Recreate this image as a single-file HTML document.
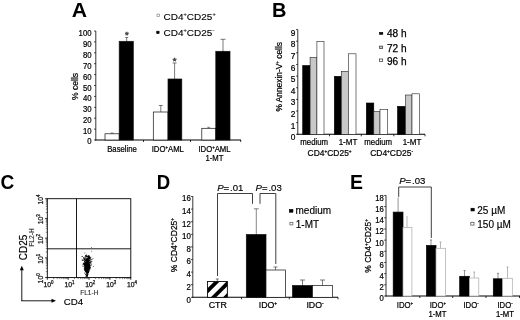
<!DOCTYPE html>
<html><head><meta charset="utf-8"><title>Figure</title>
<style>
html,body{margin:0;padding:0;background:#fff;}
body{width:520px;height:320px;overflow:hidden;}
svg{display:block;filter:blur(0.35px);font-family:"Liberation Sans",sans-serif;}
</style></head><body>
<svg width="520" height="320" viewBox="0 0 520 320">
<rect x="0" y="0" width="520" height="320" fill="#fff"/>
<text transform="translate(71.70 16.60) scale(1.06 1)" font-size="20" text-anchor="start" font-weight="bold" fill="#000">A</text>
<line x1="95.80" y1="31.00" x2="95.80" y2="140.50" stroke="#222" stroke-width="0.9"/>
<line x1="95.40" y1="140.00" x2="241.00" y2="140.00" stroke="#000" stroke-width="1.1"/>
<line x1="94.00" y1="140.00" x2="95.80" y2="140.00" stroke="#000" stroke-width="0.7"/>
<text transform="translate(91.50 144.40) scale(0.88 1)" font-size="8.8" text-anchor="end" font-weight="normal" fill="#000" stroke="#000" stroke-width="0.22">0</text>
<line x1="94.00" y1="129.10" x2="95.80" y2="129.10" stroke="#000" stroke-width="0.7"/>
<text transform="translate(91.50 134.10) scale(0.88 1)" font-size="8.8" text-anchor="end" font-weight="normal" fill="#000" stroke="#000" stroke-width="0.22">10</text>
<line x1="94.00" y1="118.20" x2="95.80" y2="118.20" stroke="#000" stroke-width="0.7"/>
<text transform="translate(91.50 123.20) scale(0.88 1)" font-size="8.8" text-anchor="end" font-weight="normal" fill="#000" stroke="#000" stroke-width="0.22">20</text>
<line x1="94.00" y1="107.30" x2="95.80" y2="107.30" stroke="#000" stroke-width="0.7"/>
<text transform="translate(91.50 112.30) scale(0.88 1)" font-size="8.8" text-anchor="end" font-weight="normal" fill="#000" stroke="#000" stroke-width="0.22">30</text>
<line x1="94.00" y1="96.40" x2="95.80" y2="96.40" stroke="#000" stroke-width="0.7"/>
<text transform="translate(91.50 101.40) scale(0.88 1)" font-size="8.8" text-anchor="end" font-weight="normal" fill="#000" stroke="#000" stroke-width="0.22">40</text>
<line x1="94.00" y1="85.50" x2="95.80" y2="85.50" stroke="#000" stroke-width="0.7"/>
<text transform="translate(91.50 90.50) scale(0.88 1)" font-size="8.8" text-anchor="end" font-weight="normal" fill="#000" stroke="#000" stroke-width="0.22">50</text>
<line x1="94.00" y1="74.60" x2="95.80" y2="74.60" stroke="#000" stroke-width="0.7"/>
<text transform="translate(91.50 79.60) scale(0.88 1)" font-size="8.8" text-anchor="end" font-weight="normal" fill="#000" stroke="#000" stroke-width="0.22">60</text>
<line x1="94.00" y1="63.70" x2="95.80" y2="63.70" stroke="#000" stroke-width="0.7"/>
<text transform="translate(91.50 68.70) scale(0.88 1)" font-size="8.8" text-anchor="end" font-weight="normal" fill="#000" stroke="#000" stroke-width="0.22">70</text>
<line x1="94.00" y1="52.80" x2="95.80" y2="52.80" stroke="#000" stroke-width="0.7"/>
<text transform="translate(91.50 57.80) scale(0.88 1)" font-size="8.8" text-anchor="end" font-weight="normal" fill="#000" stroke="#000" stroke-width="0.22">80</text>
<line x1="94.00" y1="41.90" x2="95.80" y2="41.90" stroke="#000" stroke-width="0.7"/>
<text transform="translate(91.50 46.90) scale(0.88 1)" font-size="8.8" text-anchor="end" font-weight="normal" fill="#000" stroke="#000" stroke-width="0.22">90</text>
<line x1="94.00" y1="31.00" x2="95.80" y2="31.00" stroke="#000" stroke-width="0.7"/>
<text transform="translate(91.50 36.00) scale(0.88 1)" font-size="8.8" text-anchor="end" font-weight="normal" fill="#000" stroke="#000" stroke-width="0.22">100</text>
<line x1="143.50" y1="140.00" x2="143.50" y2="142.00" stroke="#000" stroke-width="0.8"/>
<line x1="190.50" y1="140.00" x2="190.50" y2="142.00" stroke="#000" stroke-width="0.8"/>
<line x1="240.70" y1="140.00" x2="240.70" y2="142.00" stroke="#000" stroke-width="0.8"/>
<line x1="112.00" y1="133.00" x2="112.00" y2="134.00" stroke="#444" stroke-width="0.6"/>
<line x1="110.50" y1="133.00" x2="113.50" y2="133.00" stroke="#444" stroke-width="0.6"/>
<rect x="105.00" y="133.80" width="14.20" height="6.20" fill="#fff" stroke="#111" stroke-width="0.7"/>
<line x1="126.70" y1="37.50" x2="126.70" y2="42.00" stroke="#444" stroke-width="0.7"/>
<line x1="125.20" y1="37.50" x2="128.20" y2="37.50" stroke="#444" stroke-width="0.7"/>
<rect x="119.20" y="41.30" width="14.10" height="98.70" fill="#000" stroke="#111" stroke-width="0.7"/>
<line x1="160.80" y1="105.50" x2="160.80" y2="112.00" stroke="#444" stroke-width="0.7"/>
<line x1="158.80" y1="105.50" x2="162.80" y2="105.50" stroke="#444" stroke-width="0.7"/>
<rect x="153.30" y="112.00" width="14.70" height="28.00" fill="#fff" stroke="#111" stroke-width="0.7"/>
<line x1="174.60" y1="63.00" x2="174.60" y2="80.00" stroke="#444" stroke-width="0.7"/>
<line x1="172.60" y1="63.00" x2="176.60" y2="63.00" stroke="#444" stroke-width="0.7"/>
<rect x="168.00" y="79.00" width="13.80" height="61.00" fill="#000" stroke="#111" stroke-width="0.7"/>
<line x1="208.70" y1="127.30" x2="208.70" y2="128.50" stroke="#444" stroke-width="0.6"/>
<line x1="207.20" y1="127.30" x2="210.20" y2="127.30" stroke="#444" stroke-width="0.6"/>
<rect x="201.80" y="128.30" width="14.00" height="11.70" fill="#fff" stroke="#111" stroke-width="0.7"/>
<line x1="223.00" y1="39.30" x2="223.00" y2="52.00" stroke="#444" stroke-width="0.7"/>
<line x1="220.50" y1="39.30" x2="225.50" y2="39.30" stroke="#444" stroke-width="0.7"/>
<rect x="215.80" y="51.30" width="14.20" height="88.70" fill="#000" stroke="#111" stroke-width="0.7"/>
<text transform="translate(126.90 37.80)" font-size="9.5" text-anchor="middle" font-weight="normal" fill="#444" stroke="#444" stroke-width="0.5">*</text>
<text transform="translate(174.60 63.60)" font-size="9.5" text-anchor="middle" font-weight="normal" fill="#444" stroke="#444" stroke-width="0.5">*</text>
<text transform="translate(122.00 151.80) scale(0.9 1)" font-size="8.6" text-anchor="middle" font-weight="normal" fill="#000" stroke="#000" stroke-width="0.22">Baseline</text>
<text transform="translate(167.80 151.80) scale(0.9 1)" font-size="8.6" text-anchor="middle" font-weight="normal" fill="#000" stroke="#000" stroke-width="0.22">IDO<tspan baseline-shift="3.27" font-size="4.82">+</tspan>AML</text>
<text transform="translate(214.50 151.80) scale(0.9 1)" font-size="8.6" text-anchor="middle" font-weight="normal" fill="#000" stroke="#000" stroke-width="0.22">IDO<tspan baseline-shift="3.27" font-size="4.82">+</tspan>AML</text>
<text transform="translate(214.50 161.00) scale(0.9 1)" font-size="8.6" text-anchor="middle" font-weight="normal" fill="#000" stroke="#000" stroke-width="0.22">1-MT</text>
<text transform="translate(78.20 86.50) rotate(-90)" font-size="8.6" text-anchor="middle" font-weight="normal" fill="#000" stroke="#000" stroke-width="0.22">% cells</text>
<rect x="157.00" y="14.10" width="2.40" height="2.40" fill="#fff" stroke="#888" stroke-width="0.7"/>
<text transform="translate(163.60 19.70) scale(1.075 1)" font-size="9.3" text-anchor="start" font-weight="normal" fill="#000" stroke="#000" stroke-width="0.12">CD4<tspan baseline-shift="3.53" font-size="5.21">+</tspan>CD25<tspan baseline-shift="3.53" font-size="5.21">+</tspan></text>
<rect x="156.70" y="31.20" width="2.40" height="2.40" fill="#000" stroke="#000" stroke-width="0.6"/>
<text transform="translate(163.60 36.10) scale(1.075 1)" font-size="9.3" text-anchor="start" font-weight="normal" fill="#000" stroke="#000" stroke-width="0.12">CD4<tspan baseline-shift="3.53" font-size="5.21">+</tspan>CD25<tspan baseline-shift="3.53" font-size="5.21">-</tspan></text>
<text transform="translate(272.00 16.70)" font-size="20" text-anchor="start" font-weight="bold" fill="#000">B</text>
<line x1="297.80" y1="29.60" x2="297.80" y2="134.80" stroke="#222" stroke-width="0.9"/>
<line x1="297.40" y1="134.30" x2="425.00" y2="134.30" stroke="#000" stroke-width="1.1"/>
<line x1="296.00" y1="134.30" x2="297.80" y2="134.30" stroke="#000" stroke-width="0.7"/>
<text transform="translate(295.30 140.10) scale(0.95 1)" font-size="8.8" text-anchor="end" font-weight="normal" fill="#000" stroke="#000" stroke-width="0.22">0</text>
<line x1="296.00" y1="122.66" x2="297.80" y2="122.66" stroke="#000" stroke-width="0.7"/>
<text transform="translate(295.30 128.76) scale(0.95 1)" font-size="8.8" text-anchor="end" font-weight="normal" fill="#000" stroke="#000" stroke-width="0.22">1</text>
<line x1="296.00" y1="111.02" x2="297.80" y2="111.02" stroke="#000" stroke-width="0.7"/>
<text transform="translate(295.30 117.12) scale(0.95 1)" font-size="8.8" text-anchor="end" font-weight="normal" fill="#000" stroke="#000" stroke-width="0.22">2</text>
<line x1="296.00" y1="99.38" x2="297.80" y2="99.38" stroke="#000" stroke-width="0.7"/>
<text transform="translate(295.30 105.48) scale(0.95 1)" font-size="8.8" text-anchor="end" font-weight="normal" fill="#000" stroke="#000" stroke-width="0.22">3</text>
<line x1="296.00" y1="87.74" x2="297.80" y2="87.74" stroke="#000" stroke-width="0.7"/>
<text transform="translate(295.30 93.84) scale(0.95 1)" font-size="8.8" text-anchor="end" font-weight="normal" fill="#000" stroke="#000" stroke-width="0.22">4</text>
<line x1="296.00" y1="76.10" x2="297.80" y2="76.10" stroke="#000" stroke-width="0.7"/>
<text transform="translate(295.30 82.20) scale(0.95 1)" font-size="8.8" text-anchor="end" font-weight="normal" fill="#000" stroke="#000" stroke-width="0.22">5</text>
<line x1="296.00" y1="64.46" x2="297.80" y2="64.46" stroke="#000" stroke-width="0.7"/>
<text transform="translate(295.30 70.56) scale(0.95 1)" font-size="8.8" text-anchor="end" font-weight="normal" fill="#000" stroke="#000" stroke-width="0.22">6</text>
<line x1="296.00" y1="52.82" x2="297.80" y2="52.82" stroke="#000" stroke-width="0.7"/>
<text transform="translate(295.30 58.92) scale(0.95 1)" font-size="8.8" text-anchor="end" font-weight="normal" fill="#000" stroke="#000" stroke-width="0.22">7</text>
<line x1="296.00" y1="41.18" x2="297.80" y2="41.18" stroke="#000" stroke-width="0.7"/>
<text transform="translate(295.30 47.28) scale(0.95 1)" font-size="8.8" text-anchor="end" font-weight="normal" fill="#000" stroke="#000" stroke-width="0.22">8</text>
<line x1="296.00" y1="29.54" x2="297.80" y2="29.54" stroke="#000" stroke-width="0.7"/>
<text transform="translate(295.30 35.64) scale(0.95 1)" font-size="8.8" text-anchor="end" font-weight="normal" fill="#000" stroke="#000" stroke-width="0.22">9</text>
<line x1="329.50" y1="134.30" x2="329.50" y2="136.30" stroke="#000" stroke-width="0.8"/>
<line x1="361.30" y1="134.30" x2="361.30" y2="136.30" stroke="#000" stroke-width="0.8"/>
<line x1="393.80" y1="134.30" x2="393.80" y2="136.30" stroke="#000" stroke-width="0.8"/>
<line x1="425.00" y1="134.30" x2="425.00" y2="136.30" stroke="#000" stroke-width="0.8"/>
<rect x="302.70" y="65.50" width="7.40" height="68.80" fill="#000" stroke="#000" stroke-width="0.6"/>
<rect x="310.10" y="57.50" width="6.80" height="76.80" fill="#c8c8c8" stroke="#222" stroke-width="0.6"/>
<rect x="316.90" y="41.40" width="7.10" height="92.90" fill="#fff" stroke="#222" stroke-width="0.6"/>
<rect x="334.30" y="76.30" width="7.00" height="58.00" fill="#000" stroke="#000" stroke-width="0.6"/>
<rect x="341.30" y="71.30" width="7.00" height="63.00" fill="#c8c8c8" stroke="#222" stroke-width="0.6"/>
<rect x="348.30" y="53.80" width="7.70" height="80.50" fill="#fff" stroke="#222" stroke-width="0.6"/>
<rect x="366.30" y="103.00" width="7.50" height="31.30" fill="#000" stroke="#000" stroke-width="0.6"/>
<rect x="373.80" y="111.50" width="6.20" height="22.80" fill="#c8c8c8" stroke="#222" stroke-width="0.6"/>
<rect x="380.00" y="109.50" width="7.70" height="24.80" fill="#fff" stroke="#222" stroke-width="0.6"/>
<rect x="397.50" y="106.30" width="8.00" height="28.00" fill="#000" stroke="#000" stroke-width="0.6"/>
<rect x="405.50" y="95.00" width="6.50" height="39.30" fill="#c8c8c8" stroke="#222" stroke-width="0.6"/>
<rect x="412.00" y="93.80" width="7.50" height="40.50" fill="#fff" stroke="#222" stroke-width="0.6"/>
<text transform="translate(314.20 144.70) scale(0.88 1)" font-size="8.9" text-anchor="middle" font-weight="normal" fill="#000" stroke="#000" stroke-width="0.22">medium</text>
<text transform="translate(348.00 144.70) scale(0.9 1)" font-size="8.9" text-anchor="middle" font-weight="normal" fill="#000" stroke="#000" stroke-width="0.22">1-MT</text>
<text transform="translate(378.20 144.70) scale(0.88 1)" font-size="8.9" text-anchor="middle" font-weight="normal" fill="#000" stroke="#000" stroke-width="0.22">medium</text>
<text transform="translate(412.00 144.70) scale(0.9 1)" font-size="8.9" text-anchor="middle" font-weight="normal" fill="#000" stroke="#000" stroke-width="0.22">1-MT</text>
<text transform="translate(329.60 155.60) scale(0.96 1)" font-size="8.8" text-anchor="middle" font-weight="normal" fill="#000" stroke="#000" stroke-width="0.22">CD4<tspan baseline-shift="3.34" font-size="4.93">+</tspan>CD25<tspan baseline-shift="3.34" font-size="4.93">+</tspan></text>
<text transform="translate(391.60 155.60) scale(0.96 1)" font-size="8.8" text-anchor="middle" font-weight="normal" fill="#000" stroke="#000" stroke-width="0.22">CD4<tspan baseline-shift="3.34" font-size="4.93">+</tspan>CD25<tspan baseline-shift="3.34" font-size="4.93">-</tspan></text>
<text transform="translate(282.30 76.80) rotate(-90) scale(0.95 1)" font-size="8.799999999999999" text-anchor="middle" font-weight="normal" fill="#000" stroke="#000" stroke-width="0.22">% Annexin-V<tspan baseline-shift="3.27" font-size="4.82">+</tspan> cells</text>
<rect x="379.60" y="32.40" width="3.20" height="1.90" fill="#000" stroke="#000" stroke-width="0.6"/>
<text transform="translate(387.00 37.10)" font-size="10.1" text-anchor="start" font-weight="normal" fill="#000" stroke="#000" stroke-width="0.25">48 h</text>
<rect x="379.60" y="46.10" width="3.10" height="2.50" fill="#c8c8c8" stroke="#333" stroke-width="0.7"/>
<text transform="translate(387.00 51.50)" font-size="10.1" text-anchor="start" font-weight="normal" fill="#000" stroke="#000" stroke-width="0.25">72 h</text>
<rect x="379.60" y="59.00" width="3.10" height="2.50" fill="#fff" stroke="#333" stroke-width="0.7"/>
<text transform="translate(387.00 65.00)" font-size="10.1" text-anchor="start" font-weight="normal" fill="#000" stroke="#000" stroke-width="0.25">96 h</text>
<text transform="translate(0.60 188.70) scale(0.93 1)" font-size="20.5" text-anchor="start" font-weight="bold" fill="#000">C</text>
<rect x="47.30" y="198.70" width="83.50" height="78.90" fill="none" stroke="#000" stroke-width="0.9"/>
<line x1="76.50" y1="198.70" x2="76.50" y2="277.60" stroke="#000" stroke-width="0.9"/>
<line x1="47.30" y1="248.80" x2="130.80" y2="248.80" stroke="#000" stroke-width="0.9"/>
<line x1="47.30" y1="277.60" x2="47.30" y2="279.80" stroke="#000" stroke-width="0.8"/>
<line x1="45.10" y1="277.60" x2="47.30" y2="277.60" stroke="#000" stroke-width="0.8"/>
<line x1="53.58" y1="277.60" x2="53.58" y2="279.10" stroke="#111" stroke-width="0.5"/>
<line x1="45.80" y1="271.66" x2="47.30" y2="271.66" stroke="#111" stroke-width="0.5"/>
<line x1="57.26" y1="277.60" x2="57.26" y2="279.10" stroke="#111" stroke-width="0.5"/>
<line x1="45.80" y1="268.19" x2="47.30" y2="268.19" stroke="#111" stroke-width="0.5"/>
<line x1="59.87" y1="277.60" x2="59.87" y2="279.10" stroke="#111" stroke-width="0.5"/>
<line x1="45.80" y1="265.72" x2="47.30" y2="265.72" stroke="#111" stroke-width="0.5"/>
<line x1="61.89" y1="277.60" x2="61.89" y2="279.10" stroke="#111" stroke-width="0.5"/>
<line x1="45.80" y1="263.81" x2="47.30" y2="263.81" stroke="#111" stroke-width="0.5"/>
<line x1="63.54" y1="277.60" x2="63.54" y2="279.10" stroke="#111" stroke-width="0.5"/>
<line x1="45.80" y1="262.25" x2="47.30" y2="262.25" stroke="#111" stroke-width="0.5"/>
<line x1="64.94" y1="277.60" x2="64.94" y2="279.10" stroke="#111" stroke-width="0.5"/>
<line x1="45.80" y1="260.93" x2="47.30" y2="260.93" stroke="#111" stroke-width="0.5"/>
<line x1="66.15" y1="277.60" x2="66.15" y2="279.10" stroke="#111" stroke-width="0.5"/>
<line x1="45.80" y1="259.79" x2="47.30" y2="259.79" stroke="#111" stroke-width="0.5"/>
<line x1="67.22" y1="277.60" x2="67.22" y2="279.10" stroke="#111" stroke-width="0.5"/>
<line x1="45.80" y1="258.78" x2="47.30" y2="258.78" stroke="#111" stroke-width="0.5"/>
<text transform="translate(48.50 286.80)" font-size="6.8" text-anchor="middle" font-weight="normal" fill="#111" stroke="#111" stroke-width="0.25">10<tspan baseline-shift="2.86" font-size="4.42">0</tspan></text>
<text transform="translate(43.10 278.40) rotate(-90)" font-size="6.8" text-anchor="middle" font-weight="normal" fill="#111" stroke="#111" stroke-width="0.25">10<tspan baseline-shift="2.86" font-size="4.42">0</tspan></text>
<line x1="68.17" y1="277.60" x2="68.17" y2="279.80" stroke="#000" stroke-width="0.8"/>
<line x1="45.10" y1="257.88" x2="47.30" y2="257.88" stroke="#000" stroke-width="0.8"/>
<line x1="74.46" y1="277.60" x2="74.46" y2="279.10" stroke="#111" stroke-width="0.5"/>
<line x1="45.80" y1="251.94" x2="47.30" y2="251.94" stroke="#111" stroke-width="0.5"/>
<line x1="78.13" y1="277.60" x2="78.13" y2="279.10" stroke="#111" stroke-width="0.5"/>
<line x1="45.80" y1="248.46" x2="47.30" y2="248.46" stroke="#111" stroke-width="0.5"/>
<line x1="80.74" y1="277.60" x2="80.74" y2="279.10" stroke="#111" stroke-width="0.5"/>
<line x1="45.80" y1="246.00" x2="47.30" y2="246.00" stroke="#111" stroke-width="0.5"/>
<line x1="82.77" y1="277.60" x2="82.77" y2="279.10" stroke="#111" stroke-width="0.5"/>
<line x1="45.80" y1="244.09" x2="47.30" y2="244.09" stroke="#111" stroke-width="0.5"/>
<line x1="84.42" y1="277.60" x2="84.42" y2="279.10" stroke="#111" stroke-width="0.5"/>
<line x1="45.80" y1="242.53" x2="47.30" y2="242.53" stroke="#111" stroke-width="0.5"/>
<line x1="85.82" y1="277.60" x2="85.82" y2="279.10" stroke="#111" stroke-width="0.5"/>
<line x1="45.80" y1="241.21" x2="47.30" y2="241.21" stroke="#111" stroke-width="0.5"/>
<line x1="87.03" y1="277.60" x2="87.03" y2="279.10" stroke="#111" stroke-width="0.5"/>
<line x1="45.80" y1="240.06" x2="47.30" y2="240.06" stroke="#111" stroke-width="0.5"/>
<line x1="88.09" y1="277.60" x2="88.09" y2="279.10" stroke="#111" stroke-width="0.5"/>
<line x1="45.80" y1="239.05" x2="47.30" y2="239.05" stroke="#111" stroke-width="0.5"/>
<text transform="translate(69.38 286.80)" font-size="6.8" text-anchor="middle" font-weight="normal" fill="#111" stroke="#111" stroke-width="0.25">10<tspan baseline-shift="2.86" font-size="4.42">1</tspan></text>
<text transform="translate(43.10 258.68) rotate(-90)" font-size="6.8" text-anchor="middle" font-weight="normal" fill="#111" stroke="#111" stroke-width="0.25">10<tspan baseline-shift="2.86" font-size="4.42">1</tspan></text>
<line x1="89.05" y1="277.60" x2="89.05" y2="279.80" stroke="#000" stroke-width="0.8"/>
<line x1="45.10" y1="238.15" x2="47.30" y2="238.15" stroke="#000" stroke-width="0.8"/>
<line x1="95.33" y1="277.60" x2="95.33" y2="279.10" stroke="#111" stroke-width="0.5"/>
<line x1="45.80" y1="232.21" x2="47.30" y2="232.21" stroke="#111" stroke-width="0.5"/>
<line x1="99.01" y1="277.60" x2="99.01" y2="279.10" stroke="#111" stroke-width="0.5"/>
<line x1="45.80" y1="228.74" x2="47.30" y2="228.74" stroke="#111" stroke-width="0.5"/>
<line x1="101.62" y1="277.60" x2="101.62" y2="279.10" stroke="#111" stroke-width="0.5"/>
<line x1="45.80" y1="226.27" x2="47.30" y2="226.27" stroke="#111" stroke-width="0.5"/>
<line x1="103.64" y1="277.60" x2="103.64" y2="279.10" stroke="#111" stroke-width="0.5"/>
<line x1="45.80" y1="224.36" x2="47.30" y2="224.36" stroke="#111" stroke-width="0.5"/>
<line x1="105.29" y1="277.60" x2="105.29" y2="279.10" stroke="#111" stroke-width="0.5"/>
<line x1="45.80" y1="222.80" x2="47.30" y2="222.80" stroke="#111" stroke-width="0.5"/>
<line x1="106.69" y1="277.60" x2="106.69" y2="279.10" stroke="#111" stroke-width="0.5"/>
<line x1="45.80" y1="221.48" x2="47.30" y2="221.48" stroke="#111" stroke-width="0.5"/>
<line x1="107.90" y1="277.60" x2="107.90" y2="279.10" stroke="#111" stroke-width="0.5"/>
<line x1="45.80" y1="220.34" x2="47.30" y2="220.34" stroke="#111" stroke-width="0.5"/>
<line x1="108.97" y1="277.60" x2="108.97" y2="279.10" stroke="#111" stroke-width="0.5"/>
<line x1="45.80" y1="219.33" x2="47.30" y2="219.33" stroke="#111" stroke-width="0.5"/>
<text transform="translate(90.25 286.80)" font-size="6.8" text-anchor="middle" font-weight="normal" fill="#111" stroke="#111" stroke-width="0.25">10<tspan baseline-shift="2.86" font-size="4.42">2</tspan></text>
<text transform="translate(43.10 238.95) rotate(-90)" font-size="6.8" text-anchor="middle" font-weight="normal" fill="#111" stroke="#111" stroke-width="0.25">10<tspan baseline-shift="2.86" font-size="4.42">2</tspan></text>
<line x1="109.93" y1="277.60" x2="109.93" y2="279.80" stroke="#000" stroke-width="0.8"/>
<line x1="45.10" y1="218.43" x2="47.30" y2="218.43" stroke="#000" stroke-width="0.8"/>
<line x1="116.21" y1="277.60" x2="116.21" y2="279.10" stroke="#111" stroke-width="0.5"/>
<line x1="45.80" y1="212.49" x2="47.30" y2="212.49" stroke="#111" stroke-width="0.5"/>
<line x1="119.88" y1="277.60" x2="119.88" y2="279.10" stroke="#111" stroke-width="0.5"/>
<line x1="45.80" y1="209.01" x2="47.30" y2="209.01" stroke="#111" stroke-width="0.5"/>
<line x1="122.49" y1="277.60" x2="122.49" y2="279.10" stroke="#111" stroke-width="0.5"/>
<line x1="45.80" y1="206.55" x2="47.30" y2="206.55" stroke="#111" stroke-width="0.5"/>
<line x1="124.52" y1="277.60" x2="124.52" y2="279.10" stroke="#111" stroke-width="0.5"/>
<line x1="45.80" y1="204.64" x2="47.30" y2="204.64" stroke="#111" stroke-width="0.5"/>
<line x1="126.17" y1="277.60" x2="126.17" y2="279.10" stroke="#111" stroke-width="0.5"/>
<line x1="45.80" y1="203.08" x2="47.30" y2="203.08" stroke="#111" stroke-width="0.5"/>
<line x1="127.57" y1="277.60" x2="127.57" y2="279.10" stroke="#111" stroke-width="0.5"/>
<line x1="45.80" y1="201.76" x2="47.30" y2="201.76" stroke="#111" stroke-width="0.5"/>
<line x1="128.78" y1="277.60" x2="128.78" y2="279.10" stroke="#111" stroke-width="0.5"/>
<line x1="45.80" y1="200.61" x2="47.30" y2="200.61" stroke="#111" stroke-width="0.5"/>
<line x1="129.84" y1="277.60" x2="129.84" y2="279.10" stroke="#111" stroke-width="0.5"/>
<line x1="45.80" y1="199.60" x2="47.30" y2="199.60" stroke="#111" stroke-width="0.5"/>
<text transform="translate(111.13 286.80)" font-size="6.8" text-anchor="middle" font-weight="normal" fill="#111" stroke="#111" stroke-width="0.25">10<tspan baseline-shift="2.86" font-size="4.42">3</tspan></text>
<text transform="translate(43.10 219.23) rotate(-90)" font-size="6.8" text-anchor="middle" font-weight="normal" fill="#111" stroke="#111" stroke-width="0.25">10<tspan baseline-shift="2.86" font-size="4.42">3</tspan></text>
<line x1="130.80" y1="277.60" x2="130.80" y2="279.80" stroke="#000" stroke-width="0.8"/>
<line x1="45.10" y1="198.70" x2="47.30" y2="198.70" stroke="#000" stroke-width="0.8"/>
<text transform="translate(132.00 286.80)" font-size="6.8" text-anchor="middle" font-weight="normal" fill="#111" stroke="#111" stroke-width="0.25">10<tspan baseline-shift="2.86" font-size="4.42">4</tspan></text>
<text transform="translate(43.10 199.50) rotate(-90)" font-size="6.8" text-anchor="middle" font-weight="normal" fill="#111" stroke="#111" stroke-width="0.25">10<tspan baseline-shift="2.86" font-size="4.42">4</tspan></text>
<text transform="translate(89.30 294.80)" font-size="6.6" text-anchor="middle" font-weight="normal" fill="#222" stroke="#222" stroke-width="0.1">FL1-H</text>
<text transform="translate(34.30 237.50) rotate(-90)" font-size="6.6" text-anchor="middle" font-weight="normal" fill="#222" stroke="#222" stroke-width="0.1">FL2-H</text>
<rect x="87.5" y="263.4" width="1" height="1" fill="#000"/>
<rect x="86.2" y="263.5" width="1" height="1" fill="#000"/>
<rect x="86.3" y="260.4" width="1" height="1" fill="#000"/>
<rect x="87.2" y="269.4" width="1" height="1" fill="#000"/>
<rect x="87.0" y="269.1" width="1" height="1" fill="#000"/>
<rect x="86.9" y="266.2" width="1" height="1" fill="#000"/>
<rect x="88.4" y="257.2" width="1" height="1" fill="#000"/>
<rect x="87.3" y="266.7" width="1" height="1" fill="#000"/>
<rect x="83.3" y="257.1" width="1" height="1" fill="#000"/>
<rect x="85.9" y="260.6" width="1" height="1" fill="#000"/>
<rect x="86.6" y="265.8" width="1" height="1" fill="#000"/>
<rect x="85.9" y="266.8" width="1" height="1" fill="#000"/>
<rect x="87.2" y="265.9" width="1" height="1" fill="#000"/>
<rect x="89.5" y="261.6" width="1" height="1" fill="#000"/>
<rect x="88.2" y="266.9" width="1" height="1" fill="#000"/>
<rect x="85.5" y="261.8" width="1" height="1" fill="#000"/>
<rect x="86.5" y="263.0" width="1" height="1" fill="#000"/>
<rect x="87.0" y="267.3" width="1" height="1" fill="#000"/>
<rect x="85.2" y="262.5" width="1" height="1" fill="#000"/>
<rect x="88.7" y="262.2" width="1" height="1" fill="#000"/>
<rect x="87.1" y="260.9" width="1" height="1" fill="#000"/>
<rect x="84.7" y="266.4" width="1" height="1" fill="#000"/>
<rect x="88.6" y="264.7" width="1" height="1" fill="#000"/>
<rect x="86.1" y="255.6" width="1" height="1" fill="#000"/>
<rect x="85.5" y="264.0" width="1" height="1" fill="#000"/>
<rect x="86.6" y="266.7" width="1" height="1" fill="#000"/>
<rect x="88.3" y="258.1" width="1" height="1" fill="#000"/>
<rect x="87.9" y="267.4" width="1" height="1" fill="#000"/>
<rect x="87.1" y="270.8" width="1" height="1" fill="#000"/>
<rect x="84.9" y="265.0" width="1" height="1" fill="#000"/>
<rect x="85.9" y="267.2" width="1" height="1" fill="#000"/>
<rect x="84.7" y="262.5" width="1" height="1" fill="#000"/>
<rect x="85.8" y="260.2" width="1" height="1" fill="#000"/>
<rect x="84.5" y="270.2" width="1" height="1" fill="#000"/>
<rect x="87.2" y="258.1" width="1" height="1" fill="#000"/>
<rect x="87.3" y="270.9" width="1" height="1" fill="#000"/>
<rect x="81.7" y="256.1" width="1" height="1" fill="#000"/>
<rect x="85.7" y="266.1" width="1" height="1" fill="#000"/>
<rect x="88.4" y="259.6" width="1" height="1" fill="#000"/>
<rect x="86.9" y="269.3" width="1" height="1" fill="#000"/>
<rect x="87.3" y="265.6" width="1" height="1" fill="#000"/>
<rect x="87.3" y="271.5" width="1" height="1" fill="#000"/>
<rect x="87.4" y="266.8" width="1" height="1" fill="#000"/>
<rect x="89.2" y="257.6" width="1" height="1" fill="#000"/>
<rect x="87.3" y="268.7" width="1" height="1" fill="#000"/>
<rect x="85.4" y="255.8" width="1" height="1" fill="#000"/>
<rect x="84.5" y="268.2" width="1" height="1" fill="#000"/>
<rect x="88.2" y="263.7" width="1" height="1" fill="#000"/>
<rect x="89.7" y="258.7" width="1" height="1" fill="#000"/>
<rect x="86.5" y="266.9" width="1" height="1" fill="#000"/>
<rect x="87.6" y="265.9" width="1" height="1" fill="#000"/>
<rect x="88.3" y="265.0" width="1" height="1" fill="#000"/>
<rect x="86.0" y="261.6" width="1" height="1" fill="#000"/>
<rect x="86.7" y="269.1" width="1" height="1" fill="#000"/>
<rect x="88.3" y="260.6" width="1" height="1" fill="#000"/>
<rect x="86.3" y="270.9" width="1" height="1" fill="#000"/>
<rect x="86.4" y="258.4" width="1" height="1" fill="#000"/>
<rect x="86.3" y="263.8" width="1" height="1" fill="#000"/>
<rect x="85.6" y="270.7" width="1" height="1" fill="#000"/>
<rect x="85.3" y="270.0" width="1" height="1" fill="#000"/>
<rect x="87.8" y="261.0" width="1" height="1" fill="#000"/>
<rect x="87.7" y="269.5" width="1" height="1" fill="#000"/>
<rect x="86.9" y="266.0" width="1" height="1" fill="#000"/>
<rect x="87.5" y="265.2" width="1" height="1" fill="#000"/>
<rect x="87.1" y="263.7" width="1" height="1" fill="#000"/>
<rect x="86.7" y="267.0" width="1" height="1" fill="#000"/>
<rect x="87.4" y="267.9" width="1" height="1" fill="#000"/>
<rect x="87.0" y="273.3" width="1" height="1" fill="#000"/>
<rect x="86.1" y="262.6" width="1" height="1" fill="#000"/>
<rect x="88.0" y="264.4" width="1" height="1" fill="#000"/>
<rect x="87.3" y="263.0" width="1" height="1" fill="#000"/>
<rect x="84.4" y="272.6" width="1" height="1" fill="#000"/>
<rect x="87.1" y="259.6" width="1" height="1" fill="#000"/>
<rect x="87.0" y="266.3" width="1" height="1" fill="#000"/>
<rect x="87.7" y="262.6" width="1" height="1" fill="#000"/>
<rect x="86.0" y="265.7" width="1" height="1" fill="#000"/>
<rect x="87.0" y="275.2" width="1" height="1" fill="#000"/>
<rect x="86.5" y="262.1" width="1" height="1" fill="#000"/>
<rect x="86.6" y="263.5" width="1" height="1" fill="#000"/>
<rect x="88.3" y="262.4" width="1" height="1" fill="#000"/>
<rect x="86.6" y="259.4" width="1" height="1" fill="#000"/>
<rect x="87.7" y="268.7" width="1" height="1" fill="#000"/>
<rect x="85.0" y="271.1" width="1" height="1" fill="#000"/>
<rect x="86.2" y="262.9" width="1" height="1" fill="#000"/>
<rect x="88.1" y="267.2" width="1" height="1" fill="#000"/>
<rect x="85.1" y="269.3" width="1" height="1" fill="#000"/>
<rect x="84.8" y="267.5" width="1" height="1" fill="#000"/>
<rect x="88.4" y="265.3" width="1" height="1" fill="#000"/>
<rect x="87.0" y="263.8" width="1" height="1" fill="#000"/>
<rect x="86.9" y="268.0" width="1" height="1" fill="#000"/>
<rect x="89.0" y="264.1" width="1" height="1" fill="#000"/>
<rect x="86.4" y="269.1" width="1" height="1" fill="#000"/>
<rect x="88.3" y="259.5" width="1" height="1" fill="#000"/>
<rect x="86.9" y="263.3" width="1" height="1" fill="#000"/>
<rect x="87.0" y="267.6" width="1" height="1" fill="#000"/>
<rect x="84.8" y="267.3" width="1" height="1" fill="#000"/>
<rect x="87.9" y="257.9" width="1" height="1" fill="#000"/>
<rect x="84.9" y="260.3" width="1" height="1" fill="#000"/>
<rect x="89.1" y="258.0" width="1" height="1" fill="#000"/>
<rect x="88.5" y="267.8" width="1" height="1" fill="#000"/>
<rect x="86.7" y="260.4" width="1" height="1" fill="#000"/>
<rect x="88.1" y="259.5" width="1" height="1" fill="#000"/>
<rect x="85.8" y="271.5" width="1" height="1" fill="#000"/>
<rect x="87.7" y="271.4" width="1" height="1" fill="#000"/>
<rect x="83.7" y="263.7" width="1" height="1" fill="#000"/>
<rect x="86.6" y="270.7" width="1" height="1" fill="#000"/>
<rect x="87.4" y="261.8" width="1" height="1" fill="#000"/>
<rect x="88.7" y="266.3" width="1" height="1" fill="#000"/>
<rect x="88.7" y="260.0" width="1" height="1" fill="#000"/>
<rect x="88.2" y="271.0" width="1" height="1" fill="#000"/>
<rect x="85.6" y="263.7" width="1" height="1" fill="#000"/>
<rect x="86.8" y="269.0" width="1" height="1" fill="#000"/>
<rect x="88.7" y="265.0" width="1" height="1" fill="#000"/>
<rect x="83.2" y="263.3" width="1" height="1" fill="#000"/>
<rect x="83.8" y="262.8" width="1" height="1" fill="#000"/>
<rect x="87.1" y="268.1" width="1" height="1" fill="#000"/>
<rect x="86.7" y="261.8" width="1" height="1" fill="#000"/>
<rect x="86.8" y="268.2" width="1" height="1" fill="#000"/>
<rect x="86.6" y="270.3" width="1" height="1" fill="#000"/>
<rect x="88.4" y="269.1" width="1" height="1" fill="#000"/>
<rect x="86.0" y="271.6" width="1" height="1" fill="#000"/>
<rect x="84.5" y="268.4" width="1" height="1" fill="#000"/>
<rect x="83.2" y="259.7" width="1" height="1" fill="#000"/>
<rect x="85.3" y="269.2" width="1" height="1" fill="#000"/>
<rect x="86.4" y="264.4" width="1" height="1" fill="#000"/>
<rect x="85.8" y="264.4" width="1" height="1" fill="#000"/>
<rect x="89.2" y="265.5" width="1" height="1" fill="#000"/>
<rect x="87.5" y="264.7" width="1" height="1" fill="#000"/>
<rect x="86.5" y="268.9" width="1" height="1" fill="#000"/>
<rect x="85.7" y="259.0" width="1" height="1" fill="#000"/>
<rect x="84.8" y="269.2" width="1" height="1" fill="#000"/>
<rect x="88.3" y="261.9" width="1" height="1" fill="#000"/>
<rect x="86.7" y="268.0" width="1" height="1" fill="#000"/>
<rect x="86.9" y="268.0" width="1" height="1" fill="#000"/>
<rect x="83.9" y="259.3" width="1" height="1" fill="#000"/>
<rect x="88.2" y="261.7" width="1" height="1" fill="#000"/>
<rect x="85.2" y="262.0" width="1" height="1" fill="#000"/>
<rect x="84.1" y="261.1" width="1" height="1" fill="#000"/>
<rect x="84.9" y="264.0" width="1" height="1" fill="#000"/>
<rect x="83.5" y="266.1" width="1" height="1" fill="#000"/>
<rect x="85.8" y="265.9" width="1" height="1" fill="#000"/>
<rect x="88.1" y="256.0" width="1" height="1" fill="#000"/>
<rect x="83.3" y="263.3" width="1" height="1" fill="#000"/>
<rect x="87.2" y="260.6" width="1" height="1" fill="#000"/>
<rect x="87.9" y="262.5" width="1" height="1" fill="#000"/>
<rect x="87.5" y="267.8" width="1" height="1" fill="#000"/>
<rect x="88.5" y="265.9" width="1" height="1" fill="#000"/>
<rect x="87.3" y="267.4" width="1" height="1" fill="#000"/>
<rect x="88.5" y="255.3" width="1" height="1" fill="#000"/>
<rect x="86.4" y="270.3" width="1" height="1" fill="#000"/>
<rect x="89.8" y="262.4" width="1" height="1" fill="#000"/>
<rect x="87.6" y="256.8" width="1" height="1" fill="#000"/>
<rect x="86.0" y="275.2" width="1" height="1" fill="#000"/>
<rect x="89.0" y="267.5" width="1" height="1" fill="#000"/>
<rect x="87.5" y="264.0" width="1" height="1" fill="#000"/>
<rect x="85.6" y="268.5" width="1" height="1" fill="#000"/>
<rect x="87.1" y="264.1" width="1" height="1" fill="#000"/>
<rect x="86.7" y="268.1" width="1" height="1" fill="#000"/>
<rect x="85.2" y="263.6" width="1" height="1" fill="#000"/>
<rect x="88.1" y="262.9" width="1" height="1" fill="#000"/>
<rect x="85.5" y="264.9" width="1" height="1" fill="#000"/>
<rect x="91.2" y="260.8" width="1" height="1" fill="#000"/>
<rect x="87.4" y="269.5" width="1" height="1" fill="#000"/>
<rect x="87.3" y="267.2" width="1" height="1" fill="#000"/>
<rect x="87.1" y="271.9" width="1" height="1" fill="#000"/>
<rect x="87.5" y="264.2" width="1" height="1" fill="#000"/>
<rect x="88.8" y="255.9" width="1" height="1" fill="#000"/>
<rect x="85.7" y="265.9" width="1" height="1" fill="#000"/>
<rect x="88.6" y="270.3" width="1" height="1" fill="#000"/>
<rect x="85.5" y="258.3" width="1" height="1" fill="#000"/>
<rect x="87.0" y="265.8" width="1" height="1" fill="#000"/>
<rect x="85.2" y="262.7" width="1" height="1" fill="#000"/>
<rect x="87.5" y="273.8" width="1" height="1" fill="#000"/>
<rect x="84.3" y="259.2" width="1" height="1" fill="#000"/>
<rect x="87.6" y="272.0" width="1" height="1" fill="#000"/>
<rect x="87.4" y="272.5" width="1" height="1" fill="#000"/>
<rect x="87.1" y="260.7" width="1" height="1" fill="#000"/>
<rect x="85.2" y="255.0" width="1" height="1" fill="#000"/>
<rect x="87.5" y="264.2" width="1" height="1" fill="#000"/>
<rect x="86.5" y="261.3" width="1" height="1" fill="#000"/>
<rect x="87.2" y="266.5" width="1" height="1" fill="#000"/>
<rect x="87.0" y="267.3" width="1" height="1" fill="#000"/>
<rect x="87.9" y="263.1" width="1" height="1" fill="#000"/>
<rect x="85.5" y="264.7" width="1" height="1" fill="#000"/>
<rect x="86.7" y="261.7" width="1" height="1" fill="#000"/>
<rect x="86.9" y="264.0" width="1" height="1" fill="#000"/>
<rect x="87.0" y="264.5" width="1" height="1" fill="#000"/>
<rect x="84.8" y="263.9" width="1" height="1" fill="#000"/>
<rect x="88.1" y="266.4" width="1" height="1" fill="#000"/>
<rect x="86.4" y="266.4" width="1" height="1" fill="#000"/>
<rect x="85.4" y="266.5" width="1" height="1" fill="#000"/>
<rect x="86.8" y="256.2" width="1" height="1" fill="#000"/>
<rect x="88.0" y="260.4" width="1" height="1" fill="#000"/>
<rect x="82.0" y="259.7" width="1" height="1" fill="#000"/>
<rect x="89.5" y="259.9" width="1" height="1" fill="#000"/>
<rect x="84.6" y="262.8" width="1" height="1" fill="#000"/>
<rect x="87.6" y="261.1" width="1" height="1" fill="#000"/>
<rect x="86.9" y="266.7" width="1" height="1" fill="#000"/>
<rect x="87.4" y="271.0" width="1" height="1" fill="#000"/>
<rect x="87.6" y="264.4" width="1" height="1" fill="#000"/>
<rect x="87.6" y="271.8" width="1" height="1" fill="#000"/>
<rect x="85.5" y="269.0" width="1" height="1" fill="#000"/>
<rect x="87.8" y="263.8" width="1" height="1" fill="#000"/>
<rect x="88.3" y="263.2" width="1" height="1" fill="#000"/>
<rect x="87.9" y="267.1" width="1" height="1" fill="#000"/>
<rect x="90.6" y="263.6" width="1" height="1" fill="#000"/>
<rect x="86.5" y="270.0" width="1" height="1" fill="#000"/>
<rect x="90.4" y="264.9" width="1" height="1" fill="#000"/>
<rect x="88.1" y="263.0" width="1" height="1" fill="#000"/>
<rect x="86.7" y="268.8" width="1" height="1" fill="#000"/>
<rect x="87.0" y="259.4" width="1" height="1" fill="#000"/>
<rect x="88.2" y="266.1" width="1" height="1" fill="#000"/>
<rect x="86.7" y="267.9" width="1" height="1" fill="#000"/>
<rect x="87.3" y="268.3" width="1" height="1" fill="#000"/>
<rect x="86.8" y="265.4" width="1" height="1" fill="#000"/>
<rect x="87.7" y="263.4" width="1" height="1" fill="#000"/>
<rect x="85.6" y="259.9" width="1" height="1" fill="#000"/>
<rect x="84.6" y="264.5" width="1" height="1" fill="#000"/>
<rect x="83.5" y="262.6" width="1" height="1" fill="#000"/>
<rect x="87.6" y="261.5" width="1" height="1" fill="#000"/>
<rect x="86.6" y="267.0" width="1" height="1" fill="#000"/>
<rect x="84.5" y="263.5" width="1" height="1" fill="#000"/>
<rect x="87.2" y="272.5" width="1" height="1" fill="#000"/>
<rect x="85.7" y="269.3" width="1" height="1" fill="#000"/>
<rect x="84.0" y="263.7" width="1" height="1" fill="#000"/>
<rect x="87.8" y="267.9" width="1" height="1" fill="#000"/>
<rect x="86.6" y="256.2" width="1" height="1" fill="#000"/>
<rect x="84.5" y="267.3" width="1" height="1" fill="#000"/>
<rect x="84.6" y="256.5" width="1" height="1" fill="#000"/>
<rect x="84.4" y="261.7" width="1" height="1" fill="#000"/>
<rect x="87.1" y="264.6" width="1" height="1" fill="#000"/>
<rect x="87.6" y="267.3" width="1" height="1" fill="#000"/>
<rect x="87.9" y="271.1" width="1" height="1" fill="#000"/>
<rect x="85.8" y="258.7" width="1" height="1" fill="#000"/>
<rect x="84.8" y="259.8" width="1" height="1" fill="#000"/>
<rect x="86.7" y="264.1" width="1" height="1" fill="#000"/>
<rect x="84.6" y="266.7" width="1" height="1" fill="#000"/>
<rect x="86.7" y="259.1" width="1" height="1" fill="#000"/>
<rect x="86.2" y="263.6" width="1" height="1" fill="#000"/>
<rect x="85.6" y="264.2" width="1" height="1" fill="#000"/>
<rect x="87.1" y="267.6" width="1" height="1" fill="#000"/>
<rect x="85.7" y="264.1" width="1" height="1" fill="#000"/>
<rect x="82.6" y="263.7" width="1" height="1" fill="#000"/>
<rect x="86.8" y="260.2" width="1" height="1" fill="#000"/>
<rect x="87.1" y="257.9" width="1" height="1" fill="#000"/>
<rect x="84.8" y="265.1" width="1" height="1" fill="#000"/>
<rect x="86.2" y="263.4" width="1" height="1" fill="#000"/>
<rect x="87.5" y="266.5" width="1" height="1" fill="#000"/>
<rect x="85.5" y="264.3" width="1" height="1" fill="#000"/>
<rect x="86.6" y="263.9" width="1" height="1" fill="#000"/>
<rect x="87.1" y="267.7" width="1" height="1" fill="#000"/>
<rect x="84.4" y="261.3" width="1" height="1" fill="#000"/>
<rect x="85.5" y="262.9" width="1" height="1" fill="#000"/>
<rect x="86.5" y="259.6" width="1" height="1" fill="#000"/>
<rect x="86.9" y="262.3" width="1" height="1" fill="#000"/>
<rect x="86.2" y="266.8" width="1" height="1" fill="#000"/>
<rect x="86.5" y="274.7" width="1" height="1" fill="#000"/>
<rect x="86.8" y="269.3" width="1" height="1" fill="#000"/>
<rect x="84.0" y="269.4" width="1" height="1" fill="#000"/>
<rect x="87.1" y="261.2" width="1" height="1" fill="#000"/>
<rect x="89.7" y="267.2" width="1" height="1" fill="#000"/>
<rect x="88.4" y="265.9" width="1" height="1" fill="#000"/>
<rect x="87.9" y="267.9" width="1" height="1" fill="#000"/>
<rect x="86.5" y="266.7" width="1" height="1" fill="#000"/>
<rect x="85.3" y="266.7" width="1" height="1" fill="#000"/>
<rect x="85.6" y="269.7" width="1" height="1" fill="#000"/>
<rect x="89.6" y="265.6" width="1" height="1" fill="#000"/>
<rect x="86.7" y="263.5" width="1" height="1" fill="#000"/>
<rect x="86.7" y="269.6" width="1" height="1" fill="#000"/>
<rect x="87.1" y="260.9" width="1" height="1" fill="#000"/>
<rect x="87.6" y="267.1" width="1" height="1" fill="#000"/>
<rect x="89.7" y="261.1" width="1" height="1" fill="#000"/>
<rect x="86.7" y="271.8" width="1" height="1" fill="#000"/>
<rect x="86.1" y="265.7" width="1" height="1" fill="#000"/>
<rect x="86.0" y="270.7" width="1" height="1" fill="#000"/>
<rect x="86.1" y="267.5" width="1" height="1" fill="#000"/>
<rect x="87.9" y="261.4" width="1" height="1" fill="#000"/>
<rect x="86.7" y="270.4" width="1" height="1" fill="#000"/>
<rect x="88.0" y="261.5" width="1" height="1" fill="#000"/>
<rect x="87.2" y="264.3" width="1" height="1" fill="#000"/>
<rect x="87.8" y="271.2" width="1" height="1" fill="#000"/>
<rect x="90.4" y="262.2" width="1" height="1" fill="#000"/>
<rect x="87.8" y="264.5" width="1" height="1" fill="#000"/>
<rect x="86.6" y="261.7" width="1" height="1" fill="#000"/>
<rect x="90.2" y="256.8" width="1" height="1" fill="#000"/>
<rect x="85.4" y="270.5" width="1" height="1" fill="#000"/>
<rect x="83.6" y="257.9" width="1" height="1" fill="#000"/>
<rect x="86.2" y="269.7" width="1" height="1" fill="#000"/>
<rect x="86.2" y="264.2" width="1" height="1" fill="#000"/>
<rect x="85.1" y="264.0" width="1" height="1" fill="#000"/>
<rect x="84.6" y="264.6" width="1" height="1" fill="#000"/>
<rect x="87.2" y="264.2" width="1" height="1" fill="#000"/>
<rect x="86.4" y="266.6" width="1" height="1" fill="#000"/>
<rect x="87.0" y="260.5" width="1" height="1" fill="#000"/>
<rect x="89.2" y="262.4" width="1" height="1" fill="#000"/>
<rect x="86.6" y="267.9" width="1" height="1" fill="#000"/>
<rect x="85.6" y="262.4" width="1" height="1" fill="#000"/>
<rect x="86.1" y="260.4" width="1" height="1" fill="#000"/>
<rect x="87.4" y="265.8" width="1" height="1" fill="#000"/>
<rect x="89.4" y="267.0" width="1" height="1" fill="#000"/>
<rect x="86.7" y="261.4" width="1" height="1" fill="#000"/>
<rect x="85.7" y="256.3" width="1" height="1" fill="#000"/>
<rect x="86.9" y="265.2" width="1" height="1" fill="#000"/>
<rect x="86.4" y="266.3" width="1" height="1" fill="#000"/>
<rect x="86.8" y="266.1" width="1" height="1" fill="#000"/>
<rect x="84.4" y="267.9" width="1" height="1" fill="#000"/>
<rect x="86.7" y="260.6" width="1" height="1" fill="#000"/>
<rect x="84.9" y="260.0" width="1" height="1" fill="#000"/>
<rect x="85.9" y="267.3" width="1" height="1" fill="#000"/>
<rect x="87.6" y="267.3" width="1" height="1" fill="#000"/>
<rect x="87.4" y="265.8" width="1" height="1" fill="#000"/>
<rect x="84.6" y="264.0" width="1" height="1" fill="#000"/>
<rect x="87.4" y="264.4" width="1" height="1" fill="#000"/>
<rect x="86.5" y="262.2" width="1" height="1" fill="#000"/>
<rect x="85.6" y="267.8" width="1" height="1" fill="#000"/>
<rect x="89.0" y="267.3" width="1" height="1" fill="#000"/>
<rect x="86.9" y="262.1" width="1" height="1" fill="#000"/>
<rect x="89.0" y="263.8" width="1" height="1" fill="#000"/>
<rect x="87.9" y="265.9" width="1" height="1" fill="#000"/>
<rect x="86.7" y="261.5" width="1" height="1" fill="#000"/>
<rect x="84.1" y="264.5" width="1" height="1" fill="#000"/>
<rect x="87.6" y="270.8" width="1" height="1" fill="#000"/>
<rect x="88.2" y="256.8" width="1" height="1" fill="#000"/>
<rect x="87.4" y="263.9" width="1" height="1" fill="#000"/>
<rect x="84.7" y="266.1" width="1" height="1" fill="#000"/>
<rect x="89.0" y="263.6" width="1" height="1" fill="#000"/>
<rect x="85.0" y="262.0" width="1" height="1" fill="#000"/>
<rect x="84.4" y="258.5" width="1" height="1" fill="#000"/>
<rect x="89.0" y="266.0" width="1" height="1" fill="#000"/>
<rect x="87.0" y="266.4" width="1" height="1" fill="#000"/>
<rect x="86.3" y="274.3" width="1" height="1" fill="#000"/>
<rect x="87.6" y="261.5" width="1" height="1" fill="#000"/>
<rect x="85.4" y="266.9" width="1" height="1" fill="#000"/>
<rect x="87.2" y="259.4" width="1" height="1" fill="#000"/>
<rect x="84.9" y="265.6" width="1" height="1" fill="#000"/>
<rect x="85.9" y="263.6" width="1" height="1" fill="#000"/>
<rect x="86.5" y="266.5" width="1" height="1" fill="#000"/>
<rect x="86.2" y="264.1" width="1" height="1" fill="#000"/>
<rect x="88.3" y="269.1" width="1" height="1" fill="#000"/>
<rect x="88.0" y="262.9" width="1" height="1" fill="#000"/>
<rect x="86.8" y="261.2" width="1" height="1" fill="#000"/>
<rect x="88.6" y="267.8" width="1" height="1" fill="#000"/>
<rect x="86.6" y="262.8" width="1" height="1" fill="#000"/>
<rect x="84.6" y="265.4" width="1" height="1" fill="#000"/>
<rect x="85.7" y="264.6" width="1" height="1" fill="#000"/>
<rect x="85.2" y="266.1" width="1" height="1" fill="#000"/>
<rect x="86.8" y="255.8" width="1" height="1" fill="#000"/>
<rect x="85.9" y="265.6" width="1" height="1" fill="#000"/>
<rect x="86.4" y="268.4" width="1" height="1" fill="#000"/>
<rect x="87.5" y="261.8" width="1" height="1" fill="#000"/>
<rect x="85.4" y="257.6" width="1" height="1" fill="#000"/>
<rect x="87.9" y="264.4" width="1" height="1" fill="#000"/>
<rect x="87.2" y="263.8" width="1" height="1" fill="#000"/>
<rect x="87.2" y="261.6" width="1" height="1" fill="#000"/>
<rect x="86.0" y="271.8" width="1" height="1" fill="#000"/>
<rect x="86.2" y="274.9" width="1" height="1" fill="#000"/>
<rect x="87.0" y="264.6" width="1" height="1" fill="#000"/>
<rect x="85.3" y="269.0" width="1" height="1" fill="#000"/>
<rect x="87.9" y="255.3" width="1" height="1" fill="#000"/>
<rect x="87.5" y="268.0" width="1" height="1" fill="#000"/>
<rect x="86.8" y="276.1" width="1" height="1" fill="#000"/>
<rect x="88.0" y="265.6" width="1" height="1" fill="#000"/>
<rect x="88.9" y="266.1" width="1" height="1" fill="#000"/>
<rect x="86.0" y="259.1" width="1" height="1" fill="#000"/>
<rect x="86.3" y="268.1" width="1" height="1" fill="#000"/>
<rect x="89.2" y="268.6" width="1" height="1" fill="#000"/>
<rect x="86.3" y="264.5" width="1" height="1" fill="#000"/>
<rect x="85.4" y="262.3" width="1" height="1" fill="#000"/>
<rect x="87.7" y="261.7" width="1" height="1" fill="#000"/>
<rect x="86.8" y="264.7" width="1" height="1" fill="#000"/>
<rect x="88.1" y="263.7" width="1" height="1" fill="#000"/>
<rect x="86.5" y="266.7" width="1" height="1" fill="#000"/>
<rect x="86.5" y="267.4" width="1" height="1" fill="#000"/>
<rect x="89.3" y="259.4" width="1" height="1" fill="#000"/>
<rect x="85.4" y="266.5" width="1" height="1" fill="#000"/>
<rect x="87.1" y="269.2" width="1" height="1" fill="#000"/>
<rect x="89.8" y="257.6" width="1" height="1" fill="#000"/>
<rect x="87.9" y="266.0" width="1" height="1" fill="#000"/>
<rect x="86.5" y="265.4" width="1" height="1" fill="#000"/>
<rect x="88.6" y="257.7" width="1" height="1" fill="#000"/>
<rect x="86.3" y="264.6" width="1" height="1" fill="#000"/>
<rect x="86.8" y="266.0" width="1" height="1" fill="#000"/>
<rect x="86.2" y="267.5" width="1" height="1" fill="#000"/>
<rect x="83.6" y="264.3" width="1" height="1" fill="#000"/>
<rect x="87.8" y="262.6" width="1" height="1" fill="#000"/>
<rect x="86.3" y="270.4" width="1" height="1" fill="#000"/>
<rect x="89.1" y="264.0" width="1" height="1" fill="#000"/>
<rect x="87.8" y="263.1" width="1" height="1" fill="#000"/>
<rect x="86.7" y="271.9" width="1" height="1" fill="#000"/>
<rect x="85.9" y="269.9" width="1" height="1" fill="#000"/>
<rect x="86.6" y="265.4" width="1" height="1" fill="#000"/>
<rect x="88.3" y="265.0" width="1" height="1" fill="#000"/>
<rect x="86.2" y="275.0" width="1" height="1" fill="#000"/>
<rect x="87.5" y="262.0" width="1" height="1" fill="#000"/>
<rect x="87.6" y="259.9" width="1" height="1" fill="#000"/>
<rect x="86.3" y="267.0" width="1" height="1" fill="#000"/>
<rect x="84.7" y="266.8" width="1" height="1" fill="#000"/>
<rect x="84.8" y="267.8" width="1" height="1" fill="#000"/>
<rect x="85.8" y="261.4" width="1" height="1" fill="#000"/>
<rect x="88.1" y="262.7" width="1" height="1" fill="#000"/>
<rect x="86.1" y="264.9" width="1" height="1" fill="#000"/>
<rect x="88.7" y="266.9" width="1" height="1" fill="#000"/>
<rect x="87.2" y="264.5" width="1" height="1" fill="#000"/>
<rect x="87.0" y="270.0" width="1" height="1" fill="#000"/>
<rect x="91.3" y="258.9" width="1" height="1" fill="#000"/>
<rect x="85.1" y="274.2" width="1" height="1" fill="#000"/>
<rect x="87.3" y="264.3" width="1" height="1" fill="#000"/>
<rect x="87.5" y="268.7" width="1" height="1" fill="#000"/>
<rect x="85.1" y="263.3" width="1" height="1" fill="#000"/>
<rect x="88.2" y="265.0" width="1" height="1" fill="#000"/>
<rect x="84.9" y="259.7" width="1" height="1" fill="#000"/>
<rect x="83.9" y="264.4" width="1" height="1" fill="#000"/>
<rect x="86.0" y="263.4" width="1" height="1" fill="#000"/>
<rect x="85.8" y="266.5" width="1" height="1" fill="#000"/>
<rect x="86.0" y="260.6" width="1" height="1" fill="#000"/>
<rect x="85.7" y="264.3" width="1" height="1" fill="#000"/>
<rect x="87.8" y="264.6" width="1" height="1" fill="#000"/>
<rect x="88.6" y="269.7" width="1" height="1" fill="#000"/>
<rect x="86.0" y="261.1" width="1" height="1" fill="#000"/>
<rect x="86.1" y="272.9" width="1" height="1" fill="#000"/>
<rect x="87.5" y="264.4" width="1" height="1" fill="#000"/>
<rect x="87.6" y="258.5" width="1" height="1" fill="#000"/>
<rect x="84.0" y="264.4" width="1" height="1" fill="#000"/>
<rect x="88.3" y="265.8" width="1" height="1" fill="#000"/>
<rect x="88.3" y="256.3" width="1" height="1" fill="#000"/>
<rect x="87.4" y="265.4" width="1" height="1" fill="#000"/>
<rect x="88.4" y="266.4" width="1" height="1" fill="#000"/>
<rect x="88.0" y="263.5" width="1" height="1" fill="#000"/>
<rect x="87.8" y="262.7" width="1" height="1" fill="#000"/>
<rect x="86.5" y="260.9" width="1" height="1" fill="#000"/>
<rect x="87.1" y="272.1" width="1" height="1" fill="#000"/>
<rect x="85.0" y="263.8" width="1" height="1" fill="#000"/>
<rect x="87.0" y="261.0" width="1" height="1" fill="#000"/>
<rect x="87.2" y="268.6" width="1" height="1" fill="#000"/>
<rect x="86.6" y="266.8" width="1" height="1" fill="#000"/>
<rect x="86.3" y="270.4" width="1" height="1" fill="#000"/>
<rect x="88.1" y="262.1" width="1" height="1" fill="#000"/>
<rect x="86.3" y="264.8" width="1" height="1" fill="#000"/>
<rect x="86.3" y="262.0" width="1" height="1" fill="#000"/>
<rect x="87.1" y="267.2" width="1" height="1" fill="#000"/>
<rect x="87.5" y="259.2" width="1" height="1" fill="#000"/>
<rect x="85.3" y="265.3" width="1" height="1" fill="#000"/>
<rect x="86.4" y="267.9" width="1" height="1" fill="#000"/>
<rect x="87.9" y="263.0" width="1" height="1" fill="#000"/>
<rect x="86.0" y="270.3" width="1" height="1" fill="#000"/>
<rect x="85.5" y="266.4" width="1" height="1" fill="#000"/>
<rect x="86.3" y="274.7" width="1" height="1" fill="#000"/>
<rect x="86.0" y="269.8" width="1" height="1" fill="#000"/>
<rect x="89.4" y="268.1" width="1" height="1" fill="#000"/>
<rect x="87.5" y="262.6" width="1" height="1" fill="#000"/>
<rect x="85.7" y="264.1" width="1" height="1" fill="#000"/>
<rect x="86.8" y="274.0" width="1" height="1" fill="#000"/>
<rect x="88.4" y="257.3" width="1" height="1" fill="#000"/>
<rect x="89.0" y="256.9" width="1" height="1" fill="#000"/>
<rect x="86.9" y="262.0" width="1" height="1" fill="#000"/>
<rect x="86.8" y="270.0" width="1" height="1" fill="#000"/>
<rect x="83.5" y="258.4" width="1" height="1" fill="#000"/>
<rect x="87.5" y="269.7" width="1" height="1" fill="#000"/>
<rect x="88.2" y="260.9" width="1" height="1" fill="#000"/>
<rect x="87.5" y="266.7" width="1" height="1" fill="#000"/>
<rect x="86.1" y="254.6" width="1" height="1" fill="#000"/>
<rect x="87.6" y="268.5" width="1" height="1" fill="#000"/>
<rect x="83.8" y="268.4" width="1" height="1" fill="#000"/>
<rect x="87.4" y="265.2" width="1" height="1" fill="#000"/>
<rect x="86.0" y="275.7" width="1" height="1" fill="#000"/>
<rect x="86.8" y="263.1" width="1" height="1" fill="#000"/>
<rect x="86.2" y="268.4" width="1" height="1" fill="#000"/>
<rect x="85.8" y="269.5" width="1" height="1" fill="#000"/>
<rect x="86.0" y="265.7" width="1" height="1" fill="#000"/>
<rect x="85.7" y="265.2" width="1" height="1" fill="#000"/>
<rect x="91.2" y="247" width="0.8" height="0.8" fill="#333"/>
<rect x="91.3" y="250.8" width="0.8" height="0.8" fill="#333"/>
<rect x="82" y="265.6" width="0.8" height="0.8" fill="#333"/>
<rect x="84.4" y="252.6" width="0.8" height="0.8" fill="#333"/>
<rect x="92.6" y="258" width="0.8" height="0.8" fill="#333"/>
<rect x="81.6" y="259.5" width="0.8" height="0.8" fill="#333"/>
<rect x="93" y="266" width="0.8" height="0.8" fill="#333"/>
<rect x="85.5" y="276" width="0.8" height="0.8" fill="#333"/>
<line x1="21.80" y1="301.00" x2="21.80" y2="269.00" stroke="#000" stroke-width="0.9"/>
<line x1="21.40" y1="300.80" x2="53.00" y2="300.80" stroke="#000" stroke-width="0.9"/>
<polygon points="21.8,265.8 19.8,270.3 23.8,270.3" fill="#000"/>
<polygon points="56,300.8 51.5,298.8 51.5,302.8" fill="#000"/>
<text transform="translate(27.30 247.50) rotate(-90)" font-size="10" text-anchor="middle" font-weight="normal" fill="#000" stroke="#000" stroke-width="0.15">CD25</text>
<text transform="translate(63.80 304.70)" font-size="9.7" text-anchor="start" font-weight="normal" fill="#000" stroke="#000" stroke-width="0.15">CD4</text>
<text transform="translate(156.80 188.60) scale(0.93 1)" font-size="20" text-anchor="start" font-weight="bold" fill="#000">D</text>
<line x1="192.80" y1="196.20" x2="192.80" y2="297.80" stroke="#222" stroke-width="0.9"/>
<line x1="192.40" y1="297.30" x2="338.00" y2="297.30" stroke="#000" stroke-width="1.1"/>
<line x1="191.00" y1="297.30" x2="192.80" y2="297.30" stroke="#000" stroke-width="0.7"/>
<text transform="translate(190.90 302.50) scale(0.9 1)" font-size="8.8" text-anchor="end" font-weight="normal" fill="#000" stroke="#000" stroke-width="0.22">0</text>
<line x1="191.00" y1="284.70" x2="192.80" y2="284.70" stroke="#000" stroke-width="0.7"/>
<text transform="translate(190.90 289.60) scale(0.9 1)" font-size="8.8" text-anchor="end" font-weight="normal" fill="#000" stroke="#000" stroke-width="0.22">2</text>
<line x1="191.00" y1="272.10" x2="192.80" y2="272.10" stroke="#000" stroke-width="0.7"/>
<text transform="translate(190.90 277.00) scale(0.9 1)" font-size="8.8" text-anchor="end" font-weight="normal" fill="#000" stroke="#000" stroke-width="0.22">4</text>
<line x1="191.00" y1="259.50" x2="192.80" y2="259.50" stroke="#000" stroke-width="0.7"/>
<text transform="translate(190.90 264.40) scale(0.9 1)" font-size="8.8" text-anchor="end" font-weight="normal" fill="#000" stroke="#000" stroke-width="0.22">6</text>
<line x1="191.00" y1="246.90" x2="192.80" y2="246.90" stroke="#000" stroke-width="0.7"/>
<text transform="translate(190.90 251.80) scale(0.9 1)" font-size="8.8" text-anchor="end" font-weight="normal" fill="#000" stroke="#000" stroke-width="0.22">8</text>
<line x1="191.00" y1="234.30" x2="192.80" y2="234.30" stroke="#000" stroke-width="0.7"/>
<text transform="translate(190.90 239.20) scale(0.9 1)" font-size="8.8" text-anchor="end" font-weight="normal" fill="#000" stroke="#000" stroke-width="0.22">10</text>
<line x1="191.00" y1="221.70" x2="192.80" y2="221.70" stroke="#000" stroke-width="0.7"/>
<text transform="translate(190.90 226.60) scale(0.9 1)" font-size="8.8" text-anchor="end" font-weight="normal" fill="#000" stroke="#000" stroke-width="0.22">12</text>
<line x1="191.00" y1="209.10" x2="192.80" y2="209.10" stroke="#000" stroke-width="0.7"/>
<text transform="translate(190.90 214.00) scale(0.9 1)" font-size="8.8" text-anchor="end" font-weight="normal" fill="#000" stroke="#000" stroke-width="0.22">14</text>
<line x1="191.00" y1="196.50" x2="192.80" y2="196.50" stroke="#000" stroke-width="0.7"/>
<text transform="translate(190.90 201.40) scale(0.9 1)" font-size="8.8" text-anchor="end" font-weight="normal" fill="#000" stroke="#000" stroke-width="0.22">16</text>
<line x1="241.50" y1="297.30" x2="241.50" y2="299.30" stroke="#000" stroke-width="0.8"/>
<line x1="289.30" y1="297.30" x2="289.30" y2="299.30" stroke="#000" stroke-width="0.8"/>
<line x1="338.00" y1="297.30" x2="338.00" y2="299.30" stroke="#000" stroke-width="0.8"/>
<line x1="217.30" y1="279.00" x2="217.30" y2="282.00" stroke="#444" stroke-width="0.7"/>
<line x1="215.80" y1="279.00" x2="218.80" y2="279.00" stroke="#444" stroke-width="0.7"/>
<clipPath id="cc"><rect x="207.5" y="281.6" width="19.8" height="15.7"/></clipPath>
<rect x="207.50" y="281.60" width="19.80" height="15.70" fill="#fff" stroke="#111" stroke-width="0.7"/>
<g clip-path="url(#cc)" fill="#000"><polygon points="213.60,270 218.90,270 178.90,310 173.60,310"/><polygon points="225.85,270 231.15,270 191.15,310 185.85,310"/><polygon points="238.10,270 243.40,270 203.40,310 198.10,310"/><polygon points="250.35,270 255.65,270 215.65,310 210.35,310"/></g>
<rect x="207.50" y="281.60" width="19.80" height="15.70" fill="none" stroke="#111" stroke-width="0.7"/>
<line x1="256.30" y1="208.80" x2="256.30" y2="235.00" stroke="#555" stroke-width="0.7"/>
<line x1="253.80" y1="208.80" x2="258.80" y2="208.80" stroke="#555" stroke-width="0.7"/>
<rect x="246.30" y="234.50" width="19.70" height="62.80" fill="#000" stroke="#111" stroke-width="0.7"/>
<line x1="275.50" y1="267.00" x2="275.50" y2="270.00" stroke="#444" stroke-width="0.7"/>
<line x1="273.50" y1="267.00" x2="277.50" y2="267.00" stroke="#444" stroke-width="0.7"/>
<rect x="266.00" y="270.00" width="19.50" height="27.30" fill="#fff" stroke="#111" stroke-width="0.7"/>
<line x1="302.50" y1="280.00" x2="302.50" y2="286.00" stroke="#444" stroke-width="0.7"/>
<line x1="300.00" y1="280.00" x2="305.00" y2="280.00" stroke="#444" stroke-width="0.7"/>
<rect x="292.50" y="285.50" width="20.00" height="11.80" fill="#000" stroke="#111" stroke-width="0.7"/>
<line x1="322.50" y1="280.00" x2="322.50" y2="286.00" stroke="#444" stroke-width="0.7"/>
<line x1="320.00" y1="280.00" x2="325.00" y2="280.00" stroke="#444" stroke-width="0.7"/>
<rect x="312.50" y="285.50" width="20.00" height="11.80" fill="#fff" stroke="#111" stroke-width="0.7"/>
<polyline points="217.5,276 217.5,193.5 252.5,193.5 252.5,203.8" fill="none" stroke="#2a2a2a" stroke-width="0.9"/>
<polyline points="260,203.8 260,193.5 275.8,193.5 275.8,264" fill="none" stroke="#2a2a2a" stroke-width="0.9"/>
<text transform="translate(217.20 190.70)" font-size="9.6" text-anchor="start" font-weight="normal" fill="#000" stroke="#000" stroke-width="0.15"><tspan font-style="italic">P</tspan>=&#8202;.01</text>
<text transform="translate(255.60 190.70)" font-size="9.6" text-anchor="start" font-weight="normal" fill="#000" stroke="#000" stroke-width="0.15"><tspan font-style="italic">P</tspan>=&#8202;.03</text>
<text transform="translate(217.80 308.20) scale(1.03 1)" font-size="8.6" text-anchor="middle" font-weight="normal" fill="#000" stroke="#000" stroke-width="0.22">CTR</text>
<text transform="translate(268.00 308.20) scale(1.02 1)" font-size="8.6" text-anchor="middle" font-weight="normal" fill="#000" stroke="#000" stroke-width="0.22">IDO<tspan baseline-shift="3.27" font-size="4.82">+</tspan></text>
<text transform="translate(315.00 308.20) scale(1.02 1)" font-size="8.6" text-anchor="middle" font-weight="normal" fill="#000" stroke="#000" stroke-width="0.22">IDO<tspan baseline-shift="3.27" font-size="4.82">-</tspan></text>
<text transform="translate(177.40 245.00) rotate(-90) scale(0.99 1)" font-size="8.6" text-anchor="middle" font-weight="normal" fill="#000" stroke="#000" stroke-width="0.22">% CD4<tspan baseline-shift="3.27" font-size="4.82">+</tspan>CD25<tspan baseline-shift="3.27" font-size="4.82">+</tspan></text>
<rect x="289.50" y="209.60" width="3.40" height="2.60" fill="#000" stroke="#000" stroke-width="0.7"/>
<text transform="translate(295.50 214.20)" font-size="10" text-anchor="start" font-weight="normal" fill="#000" stroke="#000" stroke-width="0.15">medium</text>
<rect x="289.90" y="222.30" width="3.00" height="2.60" fill="#fff" stroke="#555" stroke-width="0.7"/>
<text transform="translate(295.80 228.00)" font-size="10" text-anchor="start" font-weight="normal" fill="#000" stroke="#000" stroke-width="0.15">1-MT</text>
<text transform="translate(350.00 188.70) scale(0.95 1)" font-size="20.5" text-anchor="start" font-weight="bold" fill="#000">E</text>
<line x1="386.00" y1="195.30" x2="386.00" y2="296.50" stroke="#222" stroke-width="0.9"/>
<line x1="385.60" y1="296.00" x2="520.00" y2="296.00" stroke="#000" stroke-width="1.1"/>
<line x1="384.20" y1="296.00" x2="386.00" y2="296.00" stroke="#000" stroke-width="0.7"/>
<text transform="translate(383.80 301.20) scale(0.88 1)" font-size="8.8" text-anchor="end" font-weight="normal" fill="#000" stroke="#000" stroke-width="0.22">0</text>
<line x1="384.20" y1="284.83" x2="386.00" y2="284.83" stroke="#000" stroke-width="0.7"/>
<text transform="translate(383.80 290.33) scale(0.88 1)" font-size="8.8" text-anchor="end" font-weight="normal" fill="#000" stroke="#000" stroke-width="0.22">2</text>
<line x1="384.20" y1="273.66" x2="386.00" y2="273.66" stroke="#000" stroke-width="0.7"/>
<text transform="translate(383.80 279.16) scale(0.88 1)" font-size="8.8" text-anchor="end" font-weight="normal" fill="#000" stroke="#000" stroke-width="0.22">4</text>
<line x1="384.20" y1="262.49" x2="386.00" y2="262.49" stroke="#000" stroke-width="0.7"/>
<text transform="translate(383.80 267.99) scale(0.88 1)" font-size="8.8" text-anchor="end" font-weight="normal" fill="#000" stroke="#000" stroke-width="0.22">6</text>
<line x1="384.20" y1="251.32" x2="386.00" y2="251.32" stroke="#000" stroke-width="0.7"/>
<text transform="translate(383.80 256.82) scale(0.88 1)" font-size="8.8" text-anchor="end" font-weight="normal" fill="#000" stroke="#000" stroke-width="0.22">8</text>
<line x1="384.20" y1="240.15" x2="386.00" y2="240.15" stroke="#000" stroke-width="0.7"/>
<text transform="translate(383.80 245.65) scale(0.88 1)" font-size="8.8" text-anchor="end" font-weight="normal" fill="#000" stroke="#000" stroke-width="0.22">10</text>
<line x1="384.20" y1="228.98" x2="386.00" y2="228.98" stroke="#000" stroke-width="0.7"/>
<text transform="translate(383.80 234.48) scale(0.88 1)" font-size="8.8" text-anchor="end" font-weight="normal" fill="#000" stroke="#000" stroke-width="0.22">12</text>
<line x1="384.20" y1="217.81" x2="386.00" y2="217.81" stroke="#000" stroke-width="0.7"/>
<text transform="translate(383.80 223.31) scale(0.88 1)" font-size="8.8" text-anchor="end" font-weight="normal" fill="#000" stroke="#000" stroke-width="0.22">14</text>
<line x1="384.20" y1="206.64" x2="386.00" y2="206.64" stroke="#000" stroke-width="0.7"/>
<text transform="translate(383.80 212.14) scale(0.88 1)" font-size="8.8" text-anchor="end" font-weight="normal" fill="#000" stroke="#000" stroke-width="0.22">16</text>
<line x1="384.20" y1="195.47" x2="386.00" y2="195.47" stroke="#000" stroke-width="0.7"/>
<text transform="translate(383.80 200.97) scale(0.88 1)" font-size="8.8" text-anchor="end" font-weight="normal" fill="#000" stroke="#000" stroke-width="0.22">18</text>
<line x1="419.80" y1="296.00" x2="419.80" y2="298.00" stroke="#000" stroke-width="0.8"/>
<line x1="452.70" y1="296.00" x2="452.70" y2="298.00" stroke="#000" stroke-width="0.8"/>
<line x1="486.00" y1="296.00" x2="486.00" y2="298.00" stroke="#000" stroke-width="0.8"/>
<line x1="519.50" y1="296.00" x2="519.50" y2="298.00" stroke="#000" stroke-width="0.8"/>
<line x1="398.10" y1="197.40" x2="398.10" y2="213.00" stroke="#666" stroke-width="0.7"/>
<rect x="393.20" y="212.10" width="9.80" height="83.90" fill="#000" stroke="#000" stroke-width="0.7"/>
<line x1="407.00" y1="216.00" x2="407.00" y2="228.00" stroke="#999" stroke-width="0.7"/>
<rect x="403.00" y="227.40" width="8.90" height="68.60" fill="#fff" stroke="#aaa" stroke-width="0.7"/>
<line x1="431.00" y1="240.00" x2="431.00" y2="246.00" stroke="#666" stroke-width="0.7"/>
<line x1="430.00" y1="240.00" x2="432.00" y2="240.00" stroke="#666" stroke-width="0.7"/>
<rect x="426.50" y="245.50" width="9.50" height="50.50" fill="#000" stroke="#000" stroke-width="0.7"/>
<line x1="440.50" y1="242.00" x2="440.50" y2="249.00" stroke="#999" stroke-width="0.7"/>
<line x1="439.50" y1="242.00" x2="441.50" y2="242.00" stroke="#999" stroke-width="0.7"/>
<rect x="436.00" y="248.30" width="9.60" height="47.70" fill="#fff" stroke="#aaa" stroke-width="0.7"/>
<line x1="464.50" y1="270.50" x2="464.50" y2="277.00" stroke="#666" stroke-width="0.7"/>
<line x1="463.50" y1="270.50" x2="465.50" y2="270.50" stroke="#666" stroke-width="0.7"/>
<rect x="459.70" y="276.30" width="9.70" height="19.70" fill="#000" stroke="#000" stroke-width="0.7"/>
<line x1="474.20" y1="272.00" x2="474.20" y2="278.00" stroke="#999" stroke-width="0.7"/>
<line x1="473.20" y1="272.00" x2="475.20" y2="272.00" stroke="#999" stroke-width="0.7"/>
<rect x="469.40" y="278.00" width="9.40" height="18.00" fill="#fff" stroke="#aaa" stroke-width="0.7"/>
<line x1="498.00" y1="273.30" x2="498.00" y2="279.00" stroke="#666" stroke-width="0.7"/>
<line x1="497.00" y1="273.30" x2="499.00" y2="273.30" stroke="#666" stroke-width="0.7"/>
<rect x="493.30" y="278.80" width="9.20" height="17.20" fill="#000" stroke="#000" stroke-width="0.7"/>
<line x1="507.50" y1="267.00" x2="507.50" y2="279.00" stroke="#999" stroke-width="0.7"/>
<line x1="506.50" y1="267.00" x2="508.50" y2="267.00" stroke="#999" stroke-width="0.7"/>
<rect x="502.50" y="278.30" width="9.80" height="17.70" fill="#fff" stroke="#aaa" stroke-width="0.7"/>
<polyline points="398.7,196.8 398.7,187 431.3,187 431.3,238" fill="none" stroke="#2a2a2a" stroke-width="0.9"/>
<text transform="translate(399.20 183.80)" font-size="9.6" text-anchor="start" font-weight="normal" fill="#000" stroke="#000" stroke-width="0.15"><tspan font-style="italic">P</tspan>=&#8202;.03</text>
<text transform="translate(405.00 307.80) scale(0.9 1)" font-size="8.6" text-anchor="middle" font-weight="normal" fill="#000" stroke="#000" stroke-width="0.22">IDO<tspan baseline-shift="3.27" font-size="4.82">+</tspan></text>
<text transform="translate(437.80 307.80) scale(0.9 1)" font-size="8.6" text-anchor="middle" font-weight="normal" fill="#000" stroke="#000" stroke-width="0.22">IDO<tspan baseline-shift="3.27" font-size="4.82">+</tspan></text>
<text transform="translate(437.50 317.00) scale(0.9 1)" font-size="8.6" text-anchor="middle" font-weight="normal" fill="#000" stroke="#000" stroke-width="0.22">1-MT</text>
<text transform="translate(471.00 307.80) scale(0.9 1)" font-size="8.6" text-anchor="middle" font-weight="normal" fill="#000" stroke="#000" stroke-width="0.22">IDO<tspan baseline-shift="3.27" font-size="4.82">-</tspan></text>
<text transform="translate(505.00 307.80) scale(0.9 1)" font-size="8.6" text-anchor="middle" font-weight="normal" fill="#000" stroke="#000" stroke-width="0.22">IDO<tspan baseline-shift="3.27" font-size="4.82">-</tspan></text>
<text transform="translate(505.00 317.00) scale(0.9 1)" font-size="8.6" text-anchor="middle" font-weight="normal" fill="#000" stroke="#000" stroke-width="0.22">1-MT</text>
<text transform="translate(371.40 245.80) rotate(-90) scale(0.98 1)" font-size="8.6" text-anchor="middle" font-weight="normal" fill="#000" stroke="#000" stroke-width="0.22">% CD4<tspan baseline-shift="3.27" font-size="4.82">+</tspan>CD25<tspan baseline-shift="3.27" font-size="4.82">+</tspan></text>
<rect x="471.00" y="208.30" width="3.20" height="2.60" fill="#000" stroke="#000" stroke-width="0.7"/>
<text transform="translate(477.30 213.80)" font-size="10" text-anchor="start" font-weight="normal" fill="#000" stroke="#000" stroke-width="0.15">25 &#181;M</text>
<rect x="470.80" y="222.30" width="3.20" height="2.80" fill="#fff" stroke="#444" stroke-width="0.7"/>
<text transform="translate(477.30 227.60)" font-size="10" text-anchor="start" font-weight="normal" fill="#000" stroke="#000" stroke-width="0.15">150 &#181;M</text>
</svg>
</body></html>
